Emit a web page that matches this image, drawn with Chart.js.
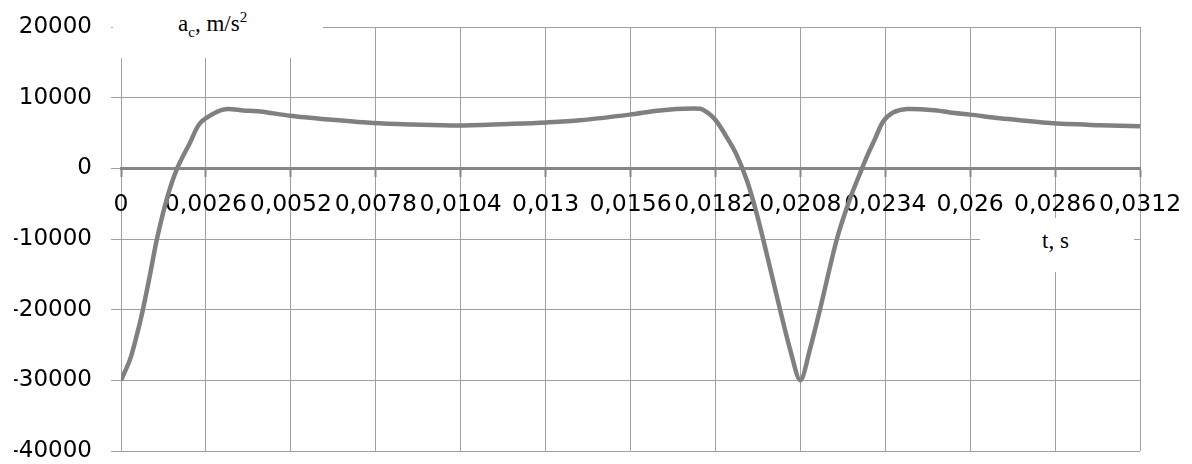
<!DOCTYPE html>
<html>
<head>
<meta charset="utf-8">
<script src="https://cdn.jsdelivr.net/npm/chart.js@4"></script>
<style>
  html, body { margin: 0; padding: 0; background: #fff; }
  #wrap { position: relative; width: 1192px; height: 464px; }
  .note { position: absolute; background: #fff; font-family: "Liberation Serif", "Times New Roman", serif; font-size: 23px; line-height: 23px; color: #000; }
  .note span { position: absolute; white-space: nowrap; }
  .note sub, .note sup { font-size: 15px; line-height: 0; }
</style>
</head>
<body>
<div id="wrap">
  <canvas id="chart" width="1192" height="464"></canvas>
  <div class="note" style="left:113px; top:0; width:210px; height:58px;"><span style="left:65px; top:12px;">a<sub>c</sub>, m/s<sup>2</sup></span></div>
  <div class="note" style="left:980px; top:218px; width:154px; height:54px;"><span style="left:62px; top:11px;">t, s</span></div>
</div>
<script>
const timeValues = [
  0, 0.00028, 0.00049, 0.00067, 0.00089, 0.0011, 0.00141, 0.00172, 0.00211, 0.00242,
  0.00294, 0.00325, 0.00374, 0.00426, 0.00517, 0.0064, 0.00772, 0.00894, 0.01038, 0.012,
  0.01304, 0.01405, 0.01558, 0.0165, 0.01751, 0.01782, 0.01819, 0.01856, 0.01886, 0.01917,
  0.01941, 0.01966, 0.02018, 0.02048, 0.0208, 0.0211, 0.0214, 0.02192, 0.02232, 0.02269,
  0.02287, 0.02309, 0.02333, 0.02364, 0.02407, 0.02498, 0.02538, 0.026, 0.02691, 0.02844,
  0.02998, 0.0312
];
const accelValues = [
  -30000, -27000, -23500, -20000, -15000, -10000, -4200, 0, 3600, 6400,
  8000, 8400, 8200, 8050, 7450, 6900, 6400, 6200, 6070, 6300,
  6500, 6800, 7600, 8200, 8450, 8300, 6900, 4300, 1800, -1800,
  -5500, -10000, -20000, -25500, -30000, -25500, -20000, -10000, -4300, 0,
  2000, 4200, 6600, 7900, 8400, 8200, 7900, 7600, 7100, 6400,
  6100, 5950
];
const xTickLabels = ["0", "0,0026", "0,0052", "0,0078", "0,0104", "0,013", "0,0156",
  "0,0182", "0,0208", "0,0234", "0,026", "0,0286", "0,0312"];
const yTickLabels = ["-40000", "-30000", "-20000", "-10000", "0", "10000", "20000"];

const gridColor = "#a0a0a0";

const points = timeValues.map((t, i) => ({ x: t, y: accelValues[i] }));

new Chart(document.getElementById("chart"), {
  type: "line",
  data: {
    datasets: [
      {
        data: points,
        borderColor: "#808080",
        borderWidth: 4.5,
        pointRadius: 0,
        fill: false,
        tension: 0.3
      }
    ]
  },
  options: {
    responsive: false,
    animation: false,
    layout: { padding: { left: 14, top: 27, right: 52, bottom: 13 } },
    plugins: { legend: { display: false }, tooltip: { enabled: false } },
    scales: {
      x: {
        type: "linear",
        position: { y: 0 },
        min: 0,
        max: 0.0312,
        afterFit: (scale) => {
          scale.paddingLeft = 0;
          scale.paddingRight = 0;
        },
        grid: { color: gridColor, lineWidth: 1, tickLength: 7, tickColor: "#868686", tickWidth: 2 },
        border: { color: "#868686", width: 3 },
        ticks: {
          stepSize: 0.0026,
          autoSkip: false,
          maxRotation: 0,
          minRotation: 0,
          padding: 15,
          color: "#000",
          font: { family: "DejaVu Sans", size: 23.5 },
          callback: (value, index) => xTickLabels[index]
        }
      },
      y: {
        min: -40000,
        max: 20000,
        afterFit: (scale) => {
          scale.width = 107;
          scale.paddingTop = 0;
          scale.paddingBottom = 0;
        },
        grid: { color: gridColor, lineWidth: 1, tickLength: 10 },
        border: { display: false },
        ticks: {
          stepSize: 10000,
          padding: 19,
          color: "#000",
          font: { family: "DejaVu Sans", size: 23 },
          callback: (value, index) => yTickLabels[index]
        }
      }
    }
  }
});
</script>
</body>
</html>
